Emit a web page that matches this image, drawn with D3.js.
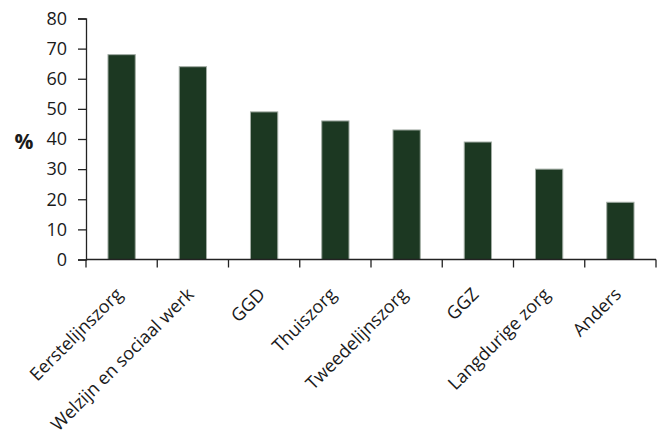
<!DOCTYPE html>
<html>
<head>
<meta charset="utf-8">
<script src="https://cdn.jsdelivr.net/npm/d3@7"></script>
<style>
  body { margin: 0; background: #fff; }
  svg text { font-family: "Open Sans", sans-serif; fill: #1a1a1a; }
</style>
</head>
<body>
<script>
const categories = ["Eerstelijnszorg", "Welzijn en sociaal werk", "GGD", "Thuiszorg",
                    "Tweedelijnszorg", "GGZ", "Langdurige zorg", "Anders"];
const values = [68, 64, 49, 46, 43, 39, 30, 19];
const yTicks = [0, 10, 20, 30, 40, 50, 60, 70, 80];

const W = 663, H = 433;
const m = { top: 18.5, left: 86, right: 7, bottom: 173.5 };
const w = W - m.left - m.right, h = H - m.top - m.bottom;

const svg = d3.select("body").append("svg")
  .attr("width", W).attr("height", H);
const g = svg.append("g").attr("transform", "translate(" + m.left + "," + m.top + ")");

const x = d3.scaleBand().domain(categories).range([0, w])
  .paddingInner(0.617).paddingOuter(0.3085);
const y = d3.scaleLinear().domain([0, 80]).range([h, 0]);

// bars
g.selectAll("rect.bar").data(values).enter().append("rect")
  .attr("class", "bar")
  .attr("x", (d, i) => x(categories[i]))
  .attr("y", d => y(d))
  .attr("width", x.bandwidth())
  .attr("height", d => h - y(d))
  .attr("fill", "#1c3822")
  .attr("stroke", "#a3ada5")
  .attr("stroke-width", 1);

// y axis
const yAxis = g.append("g")
  .call(d3.axisLeft(y).tickValues(yTicks).tickSize(8).tickPadding(11));
yAxis.select(".domain").attr("stroke", "#222").attr("stroke-width", 1.3);
yAxis.selectAll(".tick line").attr("stroke", "#222").attr("stroke-width", 1.3);
yAxis.selectAll("text").style("font-size", "18px").attr("fill", "#1a1a1a");

// x axis: baseline with ticks between categories
const step = x.step();
const bounds = d3.range(categories.length + 1).map(i => i * step);
const xAxis = g.append("g").attr("transform", "translate(0," + h + ")");
xAxis.append("line").attr("x1", 0).attr("x2", w)
  .attr("stroke", "#222").attr("stroke-width", 1.3);
xAxis.selectAll("line.tk").data(bounds).enter().append("line")
  .attr("class", "tk")
  .attr("x1", d => d).attr("x2", d => d)
  .attr("y1", 0).attr("y2", 8)
  .attr("stroke", "#222").attr("stroke-width", 1.3);

xAxis.selectAll("text.lbl").data(categories).enter().append("text")
  .attr("class", "lbl")
  .attr("transform", d => "translate(" + (x(d) + x.bandwidth() / 2 + 2) + ",36) rotate(-45)")
  .attr("text-anchor", "end")
  .style("font-size", "18px")
  .text(d => d);

// y label
svg.append("text")
  .attr("x", 24).attr("y", 142)
  .attr("text-anchor", "middle")
  .attr("dy", "0.35em")
  .style("font-size", "21px")
  .style("font-weight", "bold")
  .text("%");
</script>
</body>
</html>
